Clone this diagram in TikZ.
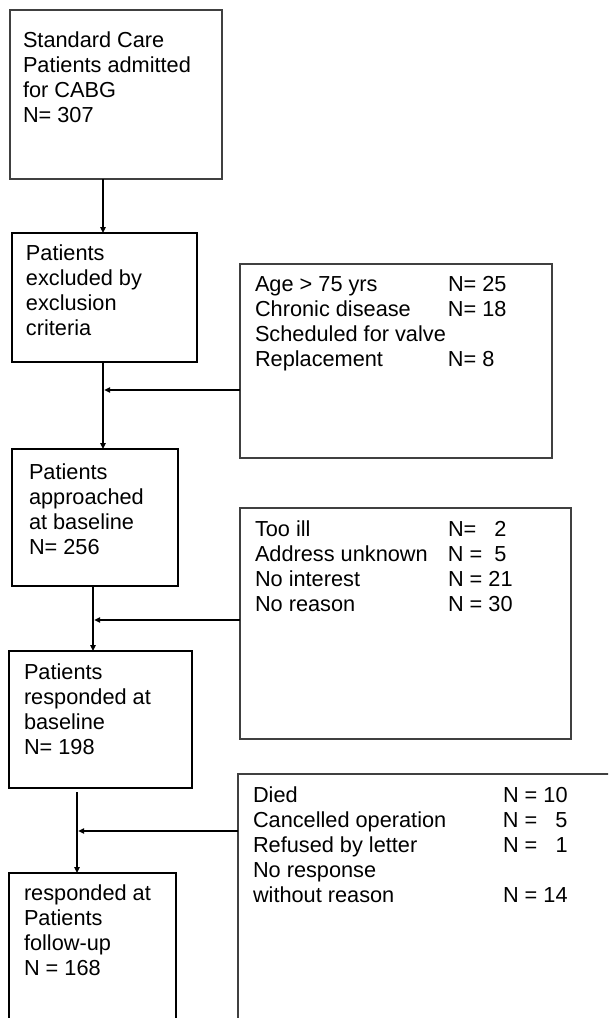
\documentclass[tikz,border=0pt]{standalone}
\usepackage{fontspec}
\setmainfont{Liberation Sans}
\usetikzlibrary{arrows.meta}
\tikzset{
  px/.style={x=0.75pt,y=-0.75pt},
  gbox/.style={draw=black!75,line width=1.1pt,rectangle,inner sep=0pt,outer sep=0pt,anchor=north west},
  kbox/.style={draw=black,line width=0.8pt,rectangle,inner sep=0pt,outer sep=0pt,anchor=north west},
  txt/.style={inner sep=0pt,outer sep=0pt,anchor=base west,font=\fontsize{16.3pt}{18.75pt}\selectfont},
  arr/.style={line width=1pt,-{Triangle[length=4.5pt,width=4pt]}},
}
\newcommand{\rw}[2]{\makebox[144.75pt][l]{#1}#2}
\newcommand{\rwd}[2]{\makebox[187.5pt][l]{#1}#2}
\begin{document}
\begin{tikzpicture}[px]
\useasboundingbox (0,0) rectangle (608,1018);
\clip (0,0) rectangle (608,1018);
% boxes
\node[gbox,minimum width=159pt,minimum height=126.75pt] (b1) at (10,10) {};
\node[kbox,minimum width=138.75pt,minimum height=96.75pt] (b2) at (12,233) {};
\node[gbox,minimum width=234pt,minimum height=145.5pt] (e1) at (240,264) {};
\node[kbox,minimum width=124.5pt,minimum height=102.75pt] (b3) at (12,449) {};
\node[gbox,minimum width=248.25pt,minimum height=173.25pt] (e2) at (240,508) {};
\node[kbox,minimum width=137.25pt,minimum height=102.75pt] (b4) at (9,651) {};
\node[gbox,minimum width=315pt,minimum height=225pt] (e3) at (238,774) {};
\node[kbox,minimum width=125.25pt,minimum height=150pt] (b5) at (9,873) {};
% texts
\node[txt] (t1) at (23,47) {\begin{tabular}[t]{@{}l@{}}Standard Care\\Patients admitted\\for CABG\\N= 307\end{tabular}};
\node[txt] (t2) at (26,260) {\begin{tabular}[t]{@{}l@{}}Patients\\excluded by\\exclusion\\criteria\end{tabular}};
\node[txt] (t3) at (255,291) {\begin{tabular}[t]{@{}l@{}}\rw{Age > 75 yrs}{N= 25}\\\rw{Chronic disease}{N= 18}\\Scheduled for valve\\\rw{Replacement}{N= 8}\end{tabular}};
\node[txt] (t4) at (29,479) {\begin{tabular}[t]{@{}l@{}}Patients\\approached\\at baseline\\N= 256\end{tabular}};
\node[txt] (t5) at (255,536) {\begin{tabular}[t]{@{}l@{}}\rw{Too ill}{N=\ \ \ 2}\\\rw{Address unknown}{N =\ \ 5}\\\rw{No interest}{N = 21}\\\rw{No reason}{N = 30}\end{tabular}};
\node[txt] (t6) at (24,679) {\begin{tabular}[t]{@{}l@{}}Patients\\responded at\\baseline\\N= 198\end{tabular}};
\node[txt] (t7) at (253,802) {\begin{tabular}[t]{@{}l@{}}\rwd{Died}{N = 10}\\\rwd{Cancelled operation}{N =\ \ \ 5}\\\rwd{Refused by letter}{N =\ \ \ 1}\\No response\\\rwd{without reason}{N = 14}\end{tabular}};
\node[txt] (t8) at (24,900) {\begin{tabular}[t]{@{}l@{}}responded at\\Patients\\follow-up\\N = 168\end{tabular}};
% connector columns
\coordinate (c1) at (103,0);
\coordinate (c3) at (93,0);
\coordinate (c4) at (77,0);
\coordinate (s4) at (77,792);
\coordinate (m1) at (103,390);
\coordinate (m2) at (93,620);
\coordinate (m3) at (77,831);
% connectors
\draw[arr] (b1.south -| c1) -- (b2.north -| c1);
\draw[arr] (b2.south -| c1) -- (b3.north -| c1);
\draw[arr] (e1.west |- m1) -- ([xshift=0.9pt]m1);
\draw[arr] (b3.south -| c3) -- (b4.north -| c3);
\draw[arr] (e2.west |- m2) -- ([xshift=0.9pt]m2);
\draw[arr] (s4) -- (b5.north -| c4);
\draw[arr] (e3.west |- m3) -- ([xshift=0.9pt]m3);
\end{tikzpicture}
\end{document}
